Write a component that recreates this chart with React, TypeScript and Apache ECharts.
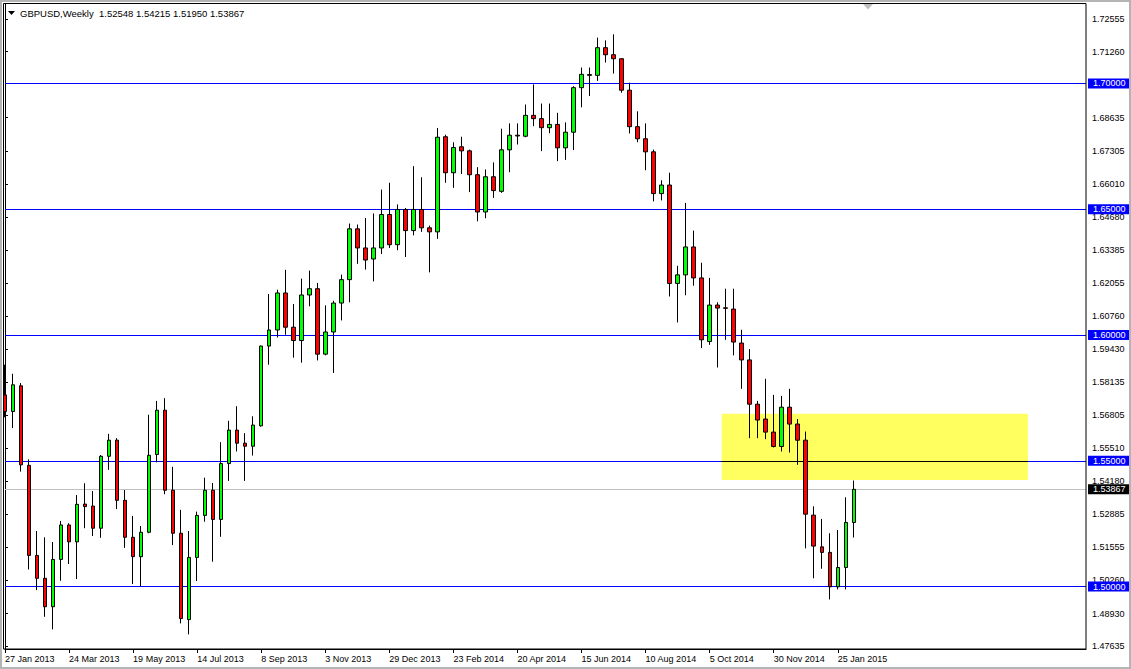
import React, { useEffect, useRef } from "react";
import * as echarts from "echarts";

const SYMBOL = "GBPUSD";
const PERIOD = "Weekly";
const FIRST_WEEK_UTC = Date.UTC(2013, 0, 27);
const EMPTY_FUTURE_WEEKS = 29;
const MONTHS = ["Jan", "Feb", "Mar", "Apr", "May", "Jun", "Jul", "Aug", "Sep", "Oct", "Nov", "Dec"];

const opens = [
  1.5762, 1.5696, 1.5798, 1.5482, 1.5124, 1.5033, 1.4920, 1.5108, 1.5245, 1.5178,
  1.5328, 1.5320, 1.5232, 1.5518, 1.5582, 1.5343, 1.5196, 1.5119, 1.5216, 1.5525,
  1.5701, 1.5383, 1.5212, 1.4869, 1.5116, 1.5283, 1.5383, 1.5267, 1.5489, 1.5622,
  1.5570, 1.5558, 1.5639, 1.5956, 1.6020, 1.6167, 1.6031, 1.5978, 1.6159, 1.6184,
  1.5924, 1.6012, 1.6127, 1.6220, 1.6422, 1.6346, 1.6302, 1.6346, 1.6479, 1.6359,
  1.6499, 1.6415, 1.6499, 1.6426, 1.6410, 1.6788, 1.6645, 1.6748, 1.6732, 1.6637,
  1.6489, 1.6629, 1.6571, 1.6736, 1.6794, 1.6790, 1.6873, 1.6860, 1.6824, 1.6837,
  1.6744, 1.6806, 1.6983, 1.7035, 1.7032, 1.7142, 1.7114, 1.7098, 1.6973, 1.6828,
  1.6780, 1.6728, 1.6562, 1.6596, 1.6205, 1.6239, 1.6350, 1.6227, 1.5974, 1.6119,
  1.6108, 1.6103, 1.5968, 1.5901, 1.5725, 1.5666, 1.5614, 1.5557, 1.5713, 1.5646,
  1.5582, 1.5284, 1.5158, 1.5136, 1.4999, 1.5076, 1.52548,
];
const highs = [
  1.5882, 1.5846, 1.5809, 1.5506, 1.5221, 1.5196, 1.5177, 1.5261, 1.5252, 1.5364,
  1.5411, 1.5380, 1.5523, 1.5607, 1.5590, 1.5384, 1.5281, 1.5241, 1.5683, 1.5738,
  1.5749, 1.5476, 1.5305, 1.5221, 1.5298, 1.5433, 1.5412, 1.5574, 1.5659, 1.5717,
  1.5610, 1.5677, 1.5958, 1.6163, 1.6180, 1.6259, 1.6123, 1.6224, 1.6256, 1.6207,
  1.6118, 1.6136, 1.6240, 1.6443, 1.6439, 1.6465, 1.6483, 1.6578, 1.6605, 1.6519,
  1.6505, 1.6671, 1.6627, 1.6435, 1.6823, 1.6796, 1.6766, 1.6788, 1.6737, 1.6667,
  1.6658, 1.6686, 1.6820, 1.6841, 1.6841, 1.6916, 1.6996, 1.6920, 1.6920, 1.6883,
  1.6845, 1.6989, 1.7063, 1.7063, 1.7182, 1.7171, 1.7195, 1.7100, 1.7003, 1.6889,
  1.6841, 1.6737, 1.6615, 1.6645, 1.6275, 1.6525, 1.6415, 1.6287, 1.6227, 1.6130,
  1.6184, 1.6184, 1.6021, 1.5944, 1.5738, 1.5826, 1.5762, 1.5758, 1.5786, 1.5666,
  1.5616, 1.5319, 1.5269, 1.5212, 1.5225, 1.5355, 1.54215,
];
const lows = [
  1.5673, 1.5630, 1.5457, 1.5068, 1.4986, 1.4880, 1.4830, 1.5023, 1.5090, 1.5030,
  1.5232, 1.5201, 1.5194, 1.5464, 1.5308, 1.5154, 1.5010, 1.5002, 1.5212, 1.5494,
  1.5367, 1.5165, 1.4854, 1.4810, 1.5022, 1.5258, 1.5099, 1.5198, 1.5420, 1.5537,
  1.5420, 1.5521, 1.5636, 1.5882, 1.5990, 1.6001, 1.5910, 1.5890, 1.6114, 1.5899,
  1.5919, 1.5849, 1.6058, 1.6130, 1.6283, 1.6260, 1.6213, 1.6322, 1.6346, 1.6337,
  1.6310, 1.6396, 1.6410, 1.6249, 1.6382, 1.6605, 1.6585, 1.6640, 1.6568, 1.6452,
  1.6464, 1.6545, 1.6565, 1.6647, 1.6757, 1.6786, 1.6830, 1.6731, 1.6802, 1.6691,
  1.6696, 1.6735, 1.6905, 1.6950, 1.7010, 1.7083, 1.7039, 1.6963, 1.6801, 1.6766,
  1.6655, 1.6531, 1.6535, 1.6153, 1.6050, 1.6158, 1.6196, 1.5948, 1.5961, 1.5871,
  1.5981, 1.5919, 1.5786, 1.5590, 1.5590, 1.5586, 1.5553, 1.5537, 1.5533, 1.5484,
  1.5152, 1.5033, 1.5071, 1.4949, 1.4989, 1.4989, 1.51950,
];
const closes = [
  1.5696, 1.5802, 1.5484, 1.5124, 1.5033, 1.4920, 1.5108, 1.5245, 1.5178, 1.5327,
  1.5318, 1.5232, 1.5518, 1.5582, 1.5343, 1.5196, 1.5119, 1.5216, 1.5522, 1.5701,
  1.5383, 1.5212, 1.4873, 1.5116, 1.5283, 1.5383, 1.5267, 1.5489, 1.5622, 1.5570,
  1.5558, 1.5642, 1.5956, 1.6020, 1.6167, 1.6031, 1.5978, 1.6159, 1.6184, 1.5924,
  1.6012, 1.6127, 1.6220, 1.6422, 1.6346, 1.6298, 1.6346, 1.6479, 1.6359, 1.6499,
  1.6415, 1.6499, 1.6426, 1.6410, 1.6786, 1.6645, 1.6745, 1.6732, 1.6637, 1.6489,
  1.6629, 1.6574, 1.6736, 1.6794, 1.6791, 1.6873, 1.6860, 1.6824, 1.6837, 1.6744,
  1.6806, 1.6983, 1.7036, 1.7032, 1.7142, 1.7114, 1.7098, 1.6973, 1.6828, 1.6780,
  1.6728, 1.6562, 1.6596, 1.6205, 1.6239, 1.6350, 1.6227, 1.5981, 1.6119, 1.6107,
  1.6106, 1.5972, 1.5901, 1.5725, 1.5662, 1.5614, 1.5557, 1.5713, 1.5646, 1.5582,
  1.5288, 1.5161, 1.5136, 1.4999, 1.5076, 1.5255, 1.53867,
];

const yTickLabels = [
  1.72555, 1.7126, 1.68635, 1.67305, 1.6601, 1.6468, 1.63385, 1.62055, 1.6076, 1.5943,
  1.58135, 1.56805, 1.5551, 1.5418, 1.52885, 1.51555, 1.5026, 1.4893, 1.47635,
];
const levelLines = [1.7, 1.65, 1.6, 1.55, 1.5];
const Y_MIN = 1.4752;
const Y_MAX = 1.73156;

// yellow zone (in bar-index units on the time scale, price units on the price scale)
const zoneFromBar = 89.5;
const zoneToBar = 127.75;
const zoneTop = 1.5687;
const zoneBottom = 1.5424;
const zoneInnerLevel = 1.55;

const FONT = "'Liberation Sans', Arial, sans-serif";

function fmtDate(ms: number) {
  const d = new Date(ms);
  return `${d.getUTCDate()} ${MONTHS[d.getUTCMonth()]} ${d.getUTCFullYear()}`;
}

export default function App() {
  const ref = useRef<HTMLDivElement>(null);

  useEffect(() => {
    document.body.style.margin = "0";
    const n = closes.length;
    const total = n + EMPTY_FUTURE_WEEKS;
    const categories = Array.from({ length: total }, (_, i) =>
      fmtDate(FIRST_WEEK_UTC + i * 7 * 86400000)
    );
    const candles = closes.map((c, i) => [opens[i], c, lows[i], highs[i]]);
    const showTick = (index: number) => index < n && index % 8 === 0;
    const lastClose = closes[n - 1];
    const header = `${SYMBOL},${PERIOD}  ${opens[n - 1].toFixed(5)} ${highs[n - 1].toFixed(5)} ${lows[n - 1].toFixed(5)} ${lastClose.toFixed(5)}`;

    const boxLabel = (bg: string) => ({
      show: true,
      position: "end",
      distance: 2,
      formatter: (p: any) => Number(p.value).toFixed(5),
      color: "#ffffff",
      backgroundColor: bg,
      padding: [1, 5, 0, 5],
      fontSize: 9,
      lineHeight: 9,
      fontFamily: FONT,
    });

    const chart = echarts.init(ref.current!, null, { renderer: "svg" });
    chart.setOption({
      animation: false,
      backgroundColor: "#ffffff",
      textStyle: { fontFamily: FONT },
      grid: { left: 5, right: 45, top: 4, bottom: 20 },
      xAxis: [
        {
          type: "category",
          data: categories,
          boundaryGap: false,
          axisLine: { show: true, lineStyle: { color: "#000", width: 1 } },
          axisTick: {
            show: true,
            length: 4,
            interval: showTick,
            lineStyle: { color: "#000" },
          },
          axisLabel: {
            interval: showTick,
            align: "left",
            margin: 5,
            fontSize: 9,
            color: "#000",
            fontFamily: FONT,
          },
          splitLine: { show: false },
        },
        { type: "value", min: 0, max: total - 1, show: false },
      ],
      yAxis: {
        type: "value",
        position: "right",
        min: Y_MIN,
        max: Y_MAX,
        splitLine: { show: false },
        axisLine: { show: true, lineStyle: { color: "#000", width: 1 } },
        axisTick: {
          show: true,
          length: 3,
          customValues: yTickLabels,
          lineStyle: { color: "#000" },
        },
        axisLabel: {
          customValues: yTickLabels,
          formatter: (v: number) => v.toFixed(5),
          margin: 6,
          fontSize: 9,
          color: "#000",
          fontFamily: FONT,
        },
      },
      series: [
        {
          type: "line",
          xAxisIndex: 1,
          yAxisIndex: 0,
          data: [],
          silent: true,
          z: 2,
          markArea: {
            silent: true,
            label: { show: false },
            itemStyle: { color: "#FFFF60", borderWidth: 0 },
            data: [[{ coord: [zoneFromBar, zoneTop] }, { coord: [zoneToBar, zoneBottom] }]],
          },
          markLine: {
            silent: true,
            symbol: ["none", "none"],
            precision: 5,
            lineStyle: { type: "solid", width: 1 },
            data: [
              ...levelLines.map((v) => ({
                yAxis: v,
                lineStyle: { color: "#0000FF", type: "solid", width: 1 },
                label: boxLabel("#0000FF"),
              })),
              [
                {
                  coord: [zoneFromBar, zoneInnerLevel],
                  lineStyle: { color: "#000000", type: "solid", width: 1 },
                  label: { show: false },
                },
                { coord: [zoneToBar, zoneInnerLevel] },
              ],
              {
                yAxis: lastClose,
                lineStyle: { color: "#C0C0C0", type: "solid", width: 1 },
                label: boxLabel("#000000"),
              },
            ],
          },
        },
        {
          type: "candlestick",
          xAxisIndex: 0,
          yAxisIndex: 0,
          data: candles,
          barWidth: 4,
          z: 5,
          itemStyle: {
            color: "#00FF00",
            color0: "#FF0000",
            borderColor: "#000000",
            borderColor0: "#000000",
            borderColorDoji: "#000000",
            borderWidth: 1,
          },
        },
      ],
      graphic: [
        {
          type: "rect",
          silent: true,
          z: 100,
          shape: { x: 3.5, y: 3.5, width: 1082.5, height: 645.5 },
          style: { fill: "none", stroke: "#000", lineWidth: 1 },
        },
        {
          type: "rect",
          silent: true,
          z: 100,
          shape: { x: 1, y: 1, width: 1129, height: 667 },
          style: { fill: "none", stroke: "#B4B4B4", lineWidth: 2 },
        },
        {
          type: "polygon",
          silent: true,
          z: 100,
          shape: { points: [[8, 11], [15, 11], [11.5, 15]] },
          style: { fill: "#000" },
        },
        {
          type: "polygon",
          silent: true,
          z: 100,
          shape: { points: [[863, 4], [873, 4], [868, 9.5]] },
          style: { fill: "#C0C0C0" },
        },
        {
          type: "text",
          silent: true,
          z: 100,
          x: 20,
          y: 13,
          style: {
            text: header,
            fill: "#000",
            font: `9.5px ${FONT}`,
            textVerticalAlign: "middle",
          },
        },
      ],
    });
    return () => chart.dispose();
  }, []);

  return (
    <div
      ref={ref}
      style={{ position: "absolute", left: 0, top: 0, width: 1131, height: 669 }}
    />
  );
}
